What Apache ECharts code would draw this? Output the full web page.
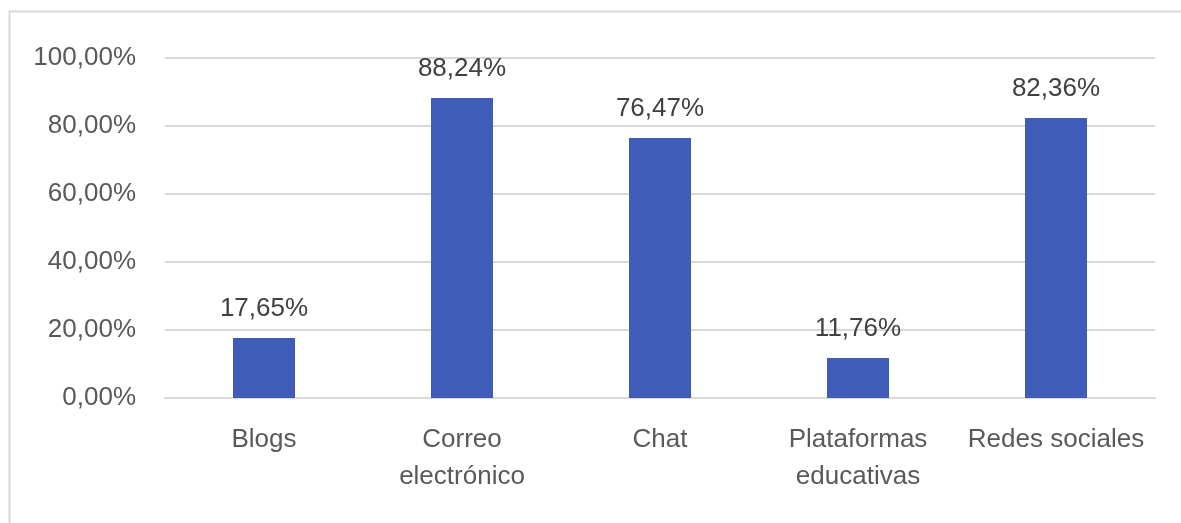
<!DOCTYPE html>
<html><head><meta charset="utf-8">
<script src="https://cdn.jsdelivr.net/npm/echarts@6/dist/echarts.min.js"></script>
<style>html,body{margin:0;padding:0;background:#fff}#c{width:1181px;height:523px}</style>
</head><body><div id="c"></div>
<script>
const categories = ['Blogs', 'Correo\nelectrónico', 'Chat', 'Plataformas\neducativas', 'Redes sociales'];
const values = [17.65, 88.24, 76.47, 11.76, 82.36];
const yTicks = [0, 20, 40, 60, 80, 100];

const fmt = v => v.toFixed(2).replace('.', ',') + '%';
const chart = echarts.init(document.getElementById('c'));
chart.setOption({
  animation: false,
  graphic: [{type: 'rect', shape: {x: 9.5, y: 11.5, width: 1200, height: 600},
    style: {fill: 'none', stroke: '#d9d9d9', lineWidth: 2}}],
  grid: {left: 165, right: 26, top: 58, bottom: 125},
  xAxis: {
    type: 'category', data: categories,
    axisLine: {lineStyle: {color: '#d9d9d9', width: 2}},
    axisTick: {show: false},
    axisLabel: {color: '#595959', fontSize: 26, fontFamily: 'Liberation Sans', margin: 23, lineHeight: 37, interval: 0}
  },
  yAxis: {
    type: 'value', min: yTicks[0], max: yTicks[yTicks.length - 1], interval: 20,
    axisLine: {show: false}, axisTick: {show: false},
    splitLine: {lineStyle: {color: '#d9d9d9', width: 2}},
    axisLabel: {color: '#595959', fontSize: 26, fontFamily: 'Liberation Sans', margin: 29, formatter: v => fmt(v)}
  },
  series: [{
    type: 'bar', data: values, barWidth: 62,
    itemStyle: {color: '#3f5cb9'},
    label: {show: true, position: 'top', distance: 16, color: '#404040', fontSize: 26,
      fontFamily: 'Liberation Sans', formatter: p => fmt(p.value)}
  }]
});
</script></body></html>
